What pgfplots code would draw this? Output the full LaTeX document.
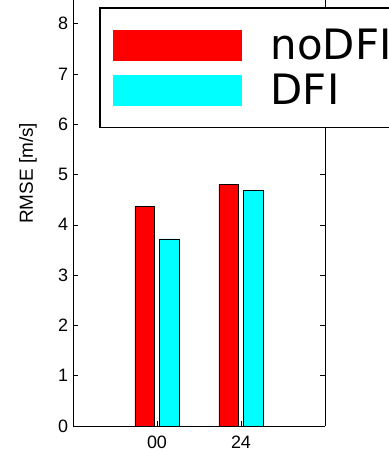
\documentclass[border=0pt]{standalone}
\usepackage{pgfplots}
\pgfplotsset{compat=1.18}
\usepackage{fontspec}
\setmainfont{Liberation Sans}
\newfontfamily\legfont{DejaVu Sans}
\definecolor{barred}{RGB}{255,0,0}
\definecolor{barcyan}{RGB}{0,255,255}
\begin{document}
\begin{tikzpicture}
\useasboundingbox (0,0) rectangle (389bp,452bp);
\begin{axis}[
  scale only axis, width=252bp, height=426bp,
  at={(73bp,26bp)}, anchor=south west,
  xmin=0, xmax=3, ymin=0, ymax=8.47,
  axis x line*=bottom,
  xtick={1,2}, xticklabels={00,24},
  ytick={0,1,2,3,4,5,6,7,8},
  tick align=inside,
  major tick length=5bp,
  tick style={black, line width=0.6pt},
  axis line style={line width=0.7pt},
  /pgf/number format/assume math mode=true,
  ticklabel style={font=\fontsize{18}{20}\selectfont},
  xticklabel style={yshift=-6.5pt},
  yticklabel style={xshift=-1.5pt},
  ylabel={RMSE [m/s]},
  ylabel style={at={(axis description cs:-0.179,0.593)}, anchor=center, font=\fontsize{19}{21}\selectfont},
  legend style={at={(axis description cs:0.107,0.981)}, anchor=north west,
    name=leg, draw=none, fill=white,
    font=\legfont\fontsize{42}{46}\selectfont,
    inner xsep=13bp, inner ysep=19bp, row sep=9bp, column sep=27bp,
    cells={anchor=west}},
]
\addplot[ybar, bar width=0.23, bar shift=-0.147, fill=barred, draw=black, line width=0.6pt,
  legend image code/.code={\fill[barred] (0bp,-15bp) rectangle (128bp,15bp);}]
  coordinates {(1,4.36) (2,4.81)};
\addlegendentry{\makebox[160pt][l]{noDFI}}
\addplot[ybar, bar width=0.23, bar shift=0.147, fill=barcyan, draw=black, line width=0.6pt,
  legend image code/.code={\fill[barcyan] (0bp,-15bp) rectangle (128bp,15bp);}]
  coordinates {(1,3.72) (2,4.69)};
\addlegendentry{DFI}
\end{axis}
\draw[line width=1.6pt] (leg.north east) -- (leg.north west) -- (leg.south west) -- (leg.south east);
\end{tikzpicture}
\end{document}
